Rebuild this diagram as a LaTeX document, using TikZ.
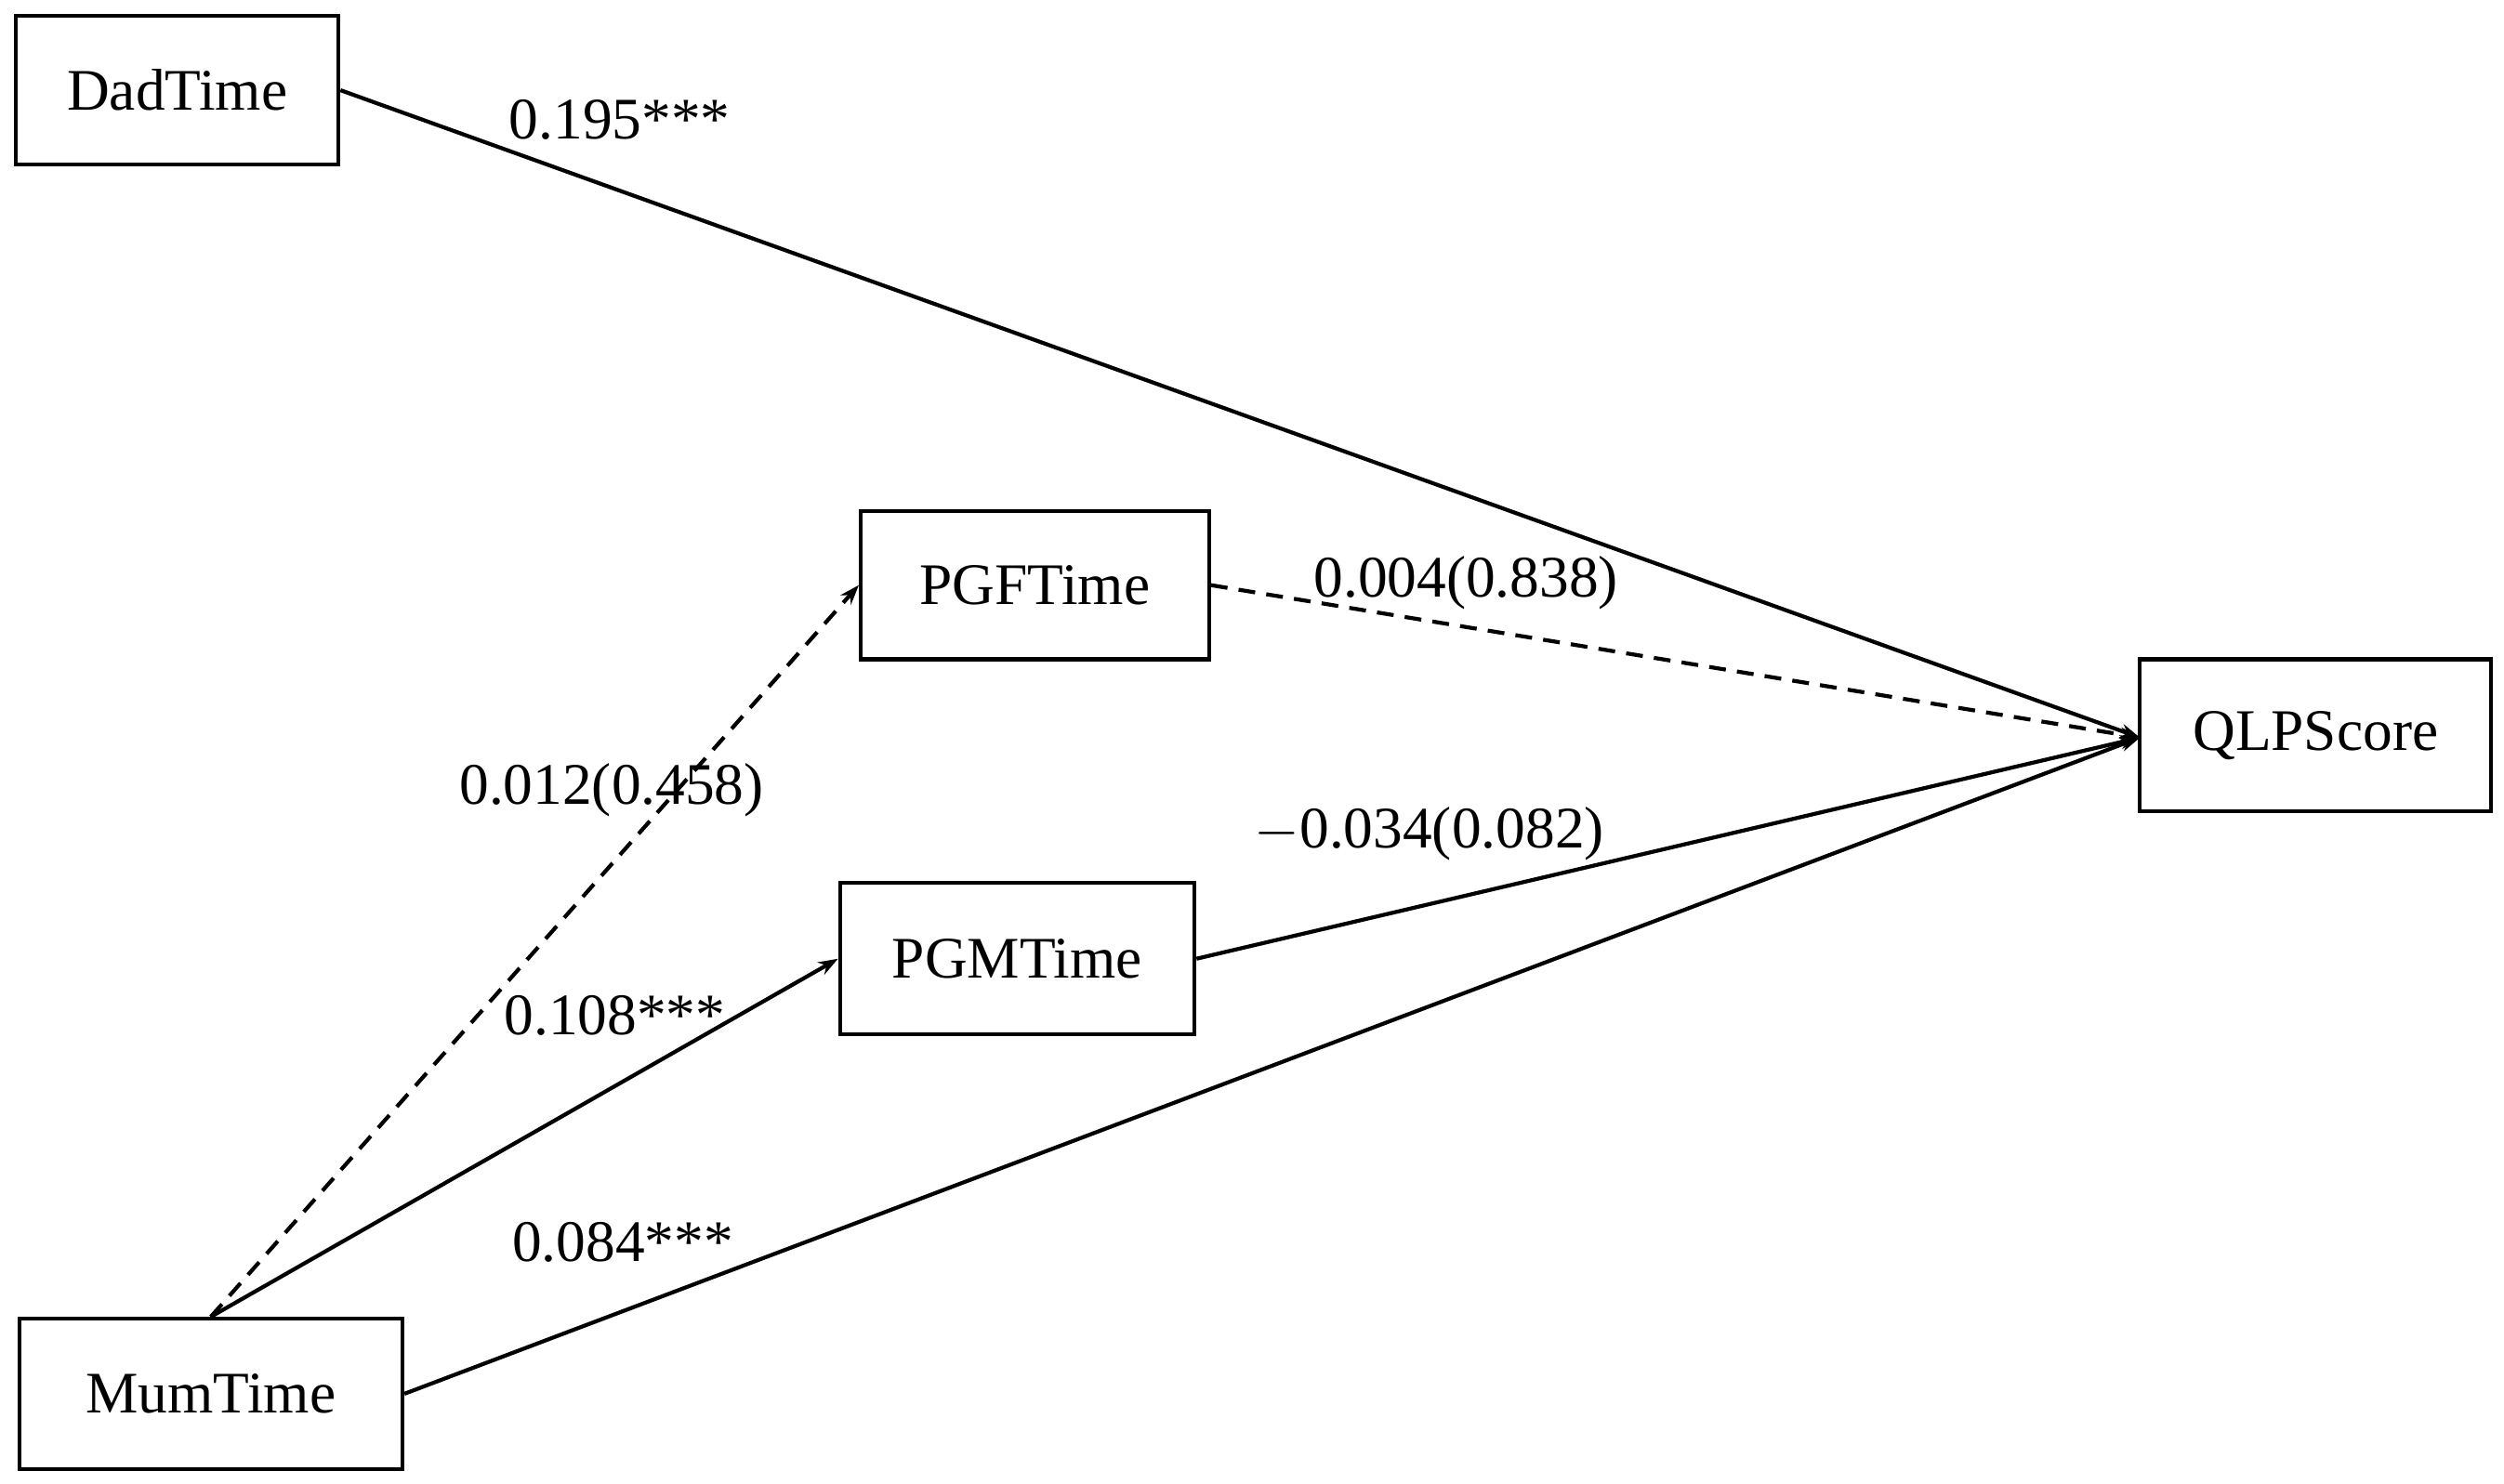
\documentclass[tikz,border=0pt]{standalone}
\usepackage{fontspec}
\setmainfont{Liberation Serif}
\usetikzlibrary{arrows.meta}
\begin{document}
\begin{tikzpicture}[x=0.02cm,y=-0.02cm,
  box/.style={draw,line width=1.4pt,inner sep=0pt,font=\fontsize{21}{25}\selectfont},
  lab/.style={font=\fontsize{21}{25}\selectfont},
  con/.style={line width=1.4pt,-{Stealth[length=7pt,width=5pt]}},
  dsh/.style={con,dash pattern=on 6pt off 4pt}]
\useasboundingbox (0,0) rectangle (1568,929);
\node[box,minimum width=202*0.02cm,minimum height=93*0.02cm] (dad) at (111,56.5) {DadTime};
\node[box,minimum width=218*0.02cm,minimum height=93*0.02cm] (pgf) at (648,366.5) {PGFTime};
\node[box,minimum width=222*0.02cm,minimum height=95*0.02cm] (pgm) at (637,600.5) {PGMTime};
\node[box,minimum width=240*0.02cm,minimum height=94*0.02cm] (mum) at (132,873) {MumTime};
\node[box,minimum width=220*0.02cm,minimum height=95*0.02cm] (q) at (1450,460.5) {QLPScore};
\coordinate (qin) at (1340,462);
\draw[con] (dad.east) -- (qin);
\draw[dsh] (pgf.east) -- (qin);
\draw[con] (pgm.east) -- (qin);
\draw[con] (mum.east) -- (qin);
\draw[con] (mum.north) -- (pgm.west);
\draw[dsh] (mum.north) -- (pgf.west);
\node[lab] (l1) at (388,75) {0.195***};
\node[lab] (l2) at (918,365) {0.004(0.838)};
\node[lab] (l3) at (383,495) {0.012(0.458)};
\node[lab] (l4) at (895,522) {$-$0.034(0.082)};
\node[lab] (l5) at (385,636) {0.108***};
\node[lab] (l6) at (390,778) {0.084***};
\end{tikzpicture}
\end{document}
